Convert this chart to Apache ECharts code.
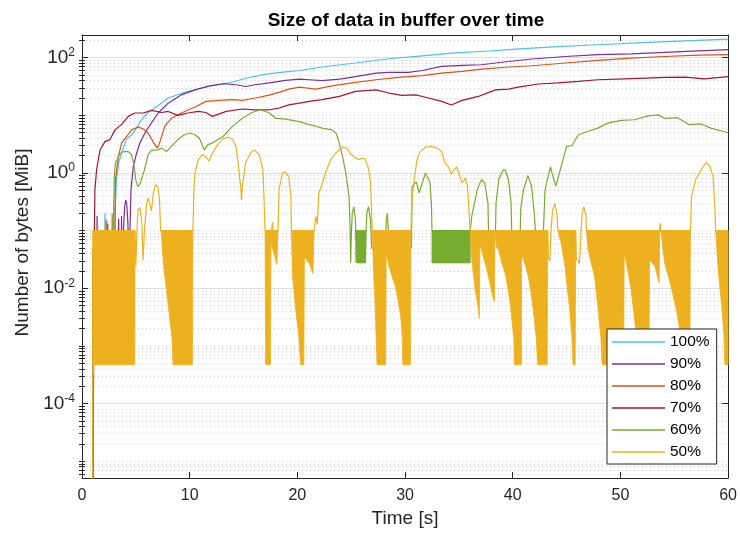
<!DOCTYPE html>
<html><head><meta charset="utf-8">
<script src="https://cdn.jsdelivr.net/npm/echarts@6/dist/echarts.min.js"></script>
<style>html,body{margin:0;padding:0;background:#fff}#c{width:740px;height:533px}</style>
</head><body><div id="c"></div>
<script>
// ---------- data (time [s], size [MiB]) ----------
const legendNames = ['100%', '90%', '80%', '70%', '60%', '50%'];
const xTickStep = 10;
const yLabelTicks = [1e-4, 1e-2, 1, 1e2];
const minorMantissas = [1, 2, 3, 4, 5, 6, 7, 8, 9];
const minorDecades = [-6, -5, -4, -3, -2, -1, 0, 1, 2];
const bandTop = 0.1;

const s100 = [[1.0,1e-6],[1.02,0.05],[2.1,0.05],[2.13,0.2],[2.16,0.05],[2.2,0.16],[2.23,0.05],[3.0,0.05],[3.06,0.1],[3.1,0.3],[3.2,0.75],[3.4,1.5],[3.67,2.2],[4.1,3.8],[4.6,4.6],[5.07,6],[5.5,8.3],[6.1,11],[7.1,15],[8.0,20],[9.2,24],[10.5,28],[11.85,32],[13.7,36.5],[15.2,44],[17.1,52],[18.9,57],[20.2,60],[22.3,69],[25.4,81],[28.5,96],[31.6,108],[34.7,121],[37.8,131],[39.6,138],[43.3,153],[47.9,168],[52.6,184],[57.2,200],[60,211]];

const s90 = [[1.0,1e-6],[1.02,0.05],[1.38,0.05],[1.4,0.18],[1.43,0.05],[3.35,0.05],[3.4,0.16],[3.45,0.05],[3.65,0.05],[3.67,0.18],[3.7,0.05],[3.85,0.1],[3.95,0.25],[4.05,0.34],[4.15,0.3],[4.25,0.15],[4.3,0.08],[4.4,0.05],[4.45,0.1],[4.55,0.5],[4.76,1.3],[5.07,2.2],[5.37,3.3],[5.83,4.9],[6.45,7.4],[7.07,11],[8.0,16.3],[9.23,22.7],[10.5,27.7],[11.85,32.5],[13.1,35.4],[14.3,34],[15.2,31.7],[16.1,34],[17.4,36.5],[18.9,40.4],[20.2,42.6],[21.1,41.5],[22.3,40],[23.9,42.6],[25.4,47],[27.3,54],[28.5,55.6],[30.3,55.6],[31.6,60],[33.4,70.6],[35.3,73.5],[37.1,75.5],[38.4,81],[39.6,86],[41.8,95],[44.9,105],[47.9,113],[51,117],[54.1,124],[57.2,131],[60,138]];

const s80 = [[1.0,1e-6],[1.02,0.05],[2.27,0.05],[2.3,0.15],[2.33,0.05],[2.38,0.05],[2.4,0.13],[2.43,0.05],[3.0,0.05],[3.06,0.1],[3.1,0.75],[3.37,1.9],[3.67,3.3],[4.14,4.3],[4.6,5.6],[5.2,6.3],[5.7,5.8],[6.15,4.9],[6.6,3.5],[7.0,2.7],[7.2,3.3],[7.7,6.5],[8.3,8.9],[9.23,11],[10.5,14],[11.5,17.5],[12.75,18.2],[14,18.7],[14.9,18.2],[16.1,20],[17.4,22.5],[18.3,25],[19.2,28.6],[20.2,31],[21.7,28.6],[23.2,32.5],[25.4,37.3],[27.3,41.5],[29.4,45.5],[31.6,49],[33.4,54],[35.3,57.9],[37.1,63.6],[39.6,69],[41.8,72.6],[44.9,81],[47.9,90],[51,98.7],[54.1,105],[57.2,111],[60,113]];

const s70 = [[1.0,1e-6],[1.1,0.002],[1.15,0.1],[1.2,0.51],[1.36,1.15],[1.67,2.5],[2.13,3.5],[2.6,3.8],[3.06,5.6],[3.67,6.9],[4.3,9.6],[4.9,11],[5.7,11],[6.45,12.2],[7.4,11.2],[8.0,11.7],[8.9,10],[9.85,11],[10.8,11.7],[11.5,11.2],[12.1,9.6],[13.4,11.7],[14.9,12.9],[16.1,12.5],[17.4,12.5],[18.3,13.4],[19.2,15.2],[20.2,16.3],[21.1,17.5],[22.3,18.7],[23.9,21.3],[25.4,26],[27.3,27.7],[28.5,24.4],[29.7,22.2],[31,22.7],[32.2,20],[33.4,17.5],[34.3,15.1],[35.3,18.2],[36.8,21.3],[38.4,27.7],[39.6,28.6],[40.5,31],[42.4,35],[44.2,36.5],[46.1,38.8],[47.9,41.5],[50.4,43],[52.3,44.3],[54.1,45.5],[56,46],[57.8,43],[60,47]];

const s60 = [[1.0,1e-6],[1.02,0.05],[1.43,0.05],[1.46,0.12],[1.5,0.05],[2.77,0.05],[2.8,0.2],[2.83,0.05],[2.9,0.1],[3.0,0.87],[3.1,1.5],[3.5,2.1],[3.8,2.35],[4.3,2.35],[4.6,2.1],[4.85,1.3],[5.0,0.75],[5.16,0.59],[5.35,0.62],[5.5,0.65],[5.8,1.13],[6.15,2.1],[6.45,2.5],[7.0,2.5],[7.4,2.7],[7.85,2.35],[8.3,2.9],[8.9,3.8],[9.5,4.6],[10.0,4.9],[10.5,4.6],[10.9,4.0],[11.36,2.5],[11.7,3.1],[12.1,3.3],[13.1,4.3],[14.0,6.5],[14.9,8.9],[15.8,11.2],[16.6,12.5],[17.4,11],[18.0,8.9],[18.9,8.6],[20.2,7.8],[21.1,6.9],[21.7,6.5],[22.3,6.0],[23.2,5.6],[23.6,4.9],[23.9,3.3],[24.2,1.9],[24.5,1.0],[24.8,0.39],[24.9,0.1],[24.95,0.028],[25.02,0.1],[25.1,0.2],[25.25,0.26],[25.4,0.15],[25.45,0.028],[25.5,0.1],[26.3,0.1],[26.32,0.028],[26.38,0.1],[26.45,0.2],[26.6,0.26],[26.8,0.15],[26.9,0.05],[28.2,0.05],[28.25,0.15],[28.35,0.2],[28.45,0.1],[28.5,0.05],[30.6,0.05],[30.65,0.59],[31.05,0.7],[31.3,0.45],[31.9,1.0],[32.3,0.7],[32.45,0.3],[32.5,0.1],[36.05,0.1],[36.2,0.18],[36.7,0.51],[37.1,0.77],[37.4,0.67],[37.7,0.3],[37.75,0.1],[38.4,0.1],[38.45,0.3],[38.7,0.77],[39.1,1.13],[39.3,1.13],[39.6,0.77],[39.85,0.3],[39.9,0.1],[40.7,0.1],[40.75,0.25],[41.0,0.51],[41.4,0.9],[41.75,0.59],[42.0,0.2],[42.1,0.1],[42.85,0.1],[43.0,0.51],[43.5,1.27],[43.8,0.8],[44.0,0.59],[44.5,1.3],[45.0,2.9],[45.5,3.0],[46.1,4.6],[47.0,5.3],[47.9,6.0],[48.9,7.4],[50.1,8.2],[51.3,8.4],[52.6,9.8],[53.5,10.2],[54.1,8.9],[55.3,9.1],[56.4,6.9],[57.5,7.1],[58.4,6.0],[60,5.0]];

const s50 = [[1.0,1e-6],[1.02,0.1],[4.92,0.1],[5.0,0.024],[5.1,0.1],[5.2,0.23],[5.37,0.25],[5.55,0.15],[5.67,0.031],[5.8,0.1],[6.0,0.3],[6.15,0.37],[6.3,0.36],[6.45,0.22],[6.6,0.42],[6.8,0.63],[7.07,0.55],[7.2,0.34],[7.3,0.1],[10.3,0.1],[10.4,0.59],[10.5,1.0],[10.8,1.7],[11.2,2.1],[11.5,1.9],[11.8,1.6],[12.1,2.2],[12.6,3.1],[13.1,3.9],[13.5,4.2],[14.0,3.8],[14.3,2.9],[14.5,1.5],[14.76,0.51],[14.8,0.34],[14.9,0.6],[15.2,1.5],[15.7,2.3],[16.0,2.5],[16.45,2.1],[16.8,1.13],[16.9,0.39],[17.0,0.1],[17.6,0.1],[17.7,0.14],[17.75,0.1],[18.2,0.1],[18.3,0.51],[18.6,1.0],[18.85,1.05],[19.2,0.87],[19.4,0.39],[19.45,0.1],[21.55,0.1],[21.7,0.176],[21.85,0.13],[22.0,0.45],[22.3,0.63],[22.6,1.0],[23.1,1.7],[23.55,2.2],[24.2,2.8],[24.6,2.7],[24.9,2.2],[25.25,1.9],[25.7,1.7],[26.0,1.8],[26.3,1.75],[26.6,1.2],[26.8,0.67],[26.95,0.1],[30.55,0.1],[30.65,0.39],[30.9,0.87],[31.1,1.7],[31.4,2.35],[31.9,2.8],[32.4,2.9],[33.0,2.7],[33.4,2.35],[33.7,1.5],[34.0,1.3],[34.3,0.96],[34.5,1.13],[34.8,1.27],[35.1,0.87],[35.3,0.67],[35.6,0.81],[35.8,0.59],[36.05,0.1],[43.25,0.1],[43.3,0.035],[43.45,0.03],[43.55,0.1],[43.7,0.22],[43.9,0.3],[44.1,0.2],[44.2,0.1],[45.85,0.1],[45.9,0.033],[46.2,0.027],[46.35,0.1],[46.45,0.2],[46.6,0.26],[46.8,0.18],[46.85,0.1],[53.65,0.1],[53.7,0.135],[53.75,0.1],[56.5,0.1],[56.6,0.39],[57.0,0.77],[57.35,1.0],[57.65,1.27],[57.95,1.5],[58.3,1.34],[58.6,0.87],[58.75,0.3],[58.85,0.1],[60,0.1]];

// fast-oscillation bands: lower envelope points (the upper edge is bandTop)
const band50 = [
  [[1.02,0.1],[1.04,3.3e-4],[1.1,4.7e-4],[4.9,4.7e-4],[4.92,0.1]],
  [[7.35,0.1],[7.45,0.05],[7.6,0.022],[7.8,0.011],[8.0,0.0052],[8.2,0.0025],[8.37,0.0013],[8.45,4.7e-4],[10.25,4.7e-4],[10.3,0.1]],
  [[17.0,0.1],[17.05,4.7e-4],[17.5,4.7e-4],[17.55,0.06],[17.75,0.045],[18.1,0.026],[18.2,0.1]],
  [[19.45,0.1],[19.55,0.016],[19.7,0.0085],[19.85,0.0042],[20.0,0.0024],[20.15,0.0013],[20.3,4.7e-4],[20.6,4.7e-4],[20.65,0.035],[21.1,0.027],[21.45,0.018],[21.55,0.1]],
  [[26.95,0.1],[27.1,0.015],[27.2,0.0063],[27.3,0.0017],[27.4,4.7e-4],[28.2,4.7e-4],[28.25,0.04],[28.5,0.024],[28.8,0.016],[29.1,0.0108],[29.4,0.0055],[29.6,0.0032],[29.75,0.0013],[29.8,4.7e-4],[30.5,4.7e-4],[30.55,0.1]],
  [[36.05,0.1],[36.2,0.03],[36.5,0.01],[36.75,0.005],[36.9,0.003],[36.95,0.06],[37.1,0.045],[37.5,0.025],[37.9,0.012],[38.2,0.0065],[38.3,0.0059],[38.35,0.1],[38.5,0.052],[38.7,0.045],[39.0,0.027],[39.3,0.018],[39.6,0.009],[39.8,0.0048],[40.1,0.0013],[40.15,4.7e-4],[40.8,4.7e-4],[40.82,0.038],[41.15,0.026],[41.45,0.016],[41.7,0.0085],[41.9,0.0042],[42.2,0.0013],[42.3,4.7e-4],[43.2,4.7e-4],[43.25,0.1]],
  [[44.2,0.1],[44.5,0.06],[44.85,0.024],[45.1,0.009],[45.3,0.0042],[45.5,0.0013],[45.6,4.7e-4],[45.8,4.7e-4],[45.85,0.1]],
  [[46.85,0.1],[47.0,0.047],[47.3,0.027],[47.6,0.016],[47.9,0.0048],[48.2,0.0013],[48.3,4.7e-4],[50.3,4.7e-4],[50.35,0.04],[50.7,0.02],[51.0,0.0093],[51.4,0.0021],[51.6,4.7e-4],[52.65,4.7e-4],[52.7,0.031],[53.2,0.024],[53.6,0.0123],[53.65,0.1],[53.75,0.1],[54.1,0.028],[54.7,0.0108],[55.2,0.0042],[55.65,0.0013],[55.8,4.7e-4],[56.45,4.7e-4],[56.5,0.1]],
  [[58.85,0.1],[59.05,0.024],[59.2,0.012],[59.35,0.0063],[59.6,0.0017],[59.7,4.7e-4],[60,4.7e-4]]
];
const band60 = [
  [[25.5,0.1],[25.5,0.0275],[26.3,0.0275],[26.3,0.1]],
  [[32.5,0.1],[32.5,0.0275],[36.05,0.0275],[36.05,0.1]]
];

// ---------- styling ----------
const FONT = '"Liberation Sans", Arial, Helvetica, sans-serif';
const TXT = '#262626';
const colors = ['#4DBEEE', '#7E2F8E', '#D95319', '#A2142F', '#77AC30', '#EDB120'];
const yMin = 5.1e-6, yMax = 248;

const minorTicks = [];
minorDecades.forEach(d => minorMantissas.forEach(m => {
  const v = m * Math.pow(10, d);
  const isMajor = yLabelTicks.some(t => Math.abs(t - v) / t < 1e-9);
  if (!isMajor && v >= yMin && v <= yMax) minorTicks.push(v);
}));

function bandSeries(name, blocks, color, z) {
  return {
    type: 'custom', name: name, silent: true, clip: true, z: z,
    data: blocks.map(b => [b[0][0], b[b.length - 1][0], bandTop]),
    encode: { x: [0, 1], y: 2 },
    renderItem: function (params, api) {
      const blk = blocks[params.dataIndex];
      const up = blk.map(p => api.coord([p[0], bandTop]));
      const lo = blk.slice().reverse().map(p => api.coord([p[0], p[1]]));
      return { type: 'polygon', shape: { points: up.concat(lo) },
               style: { fill: color, stroke: color, lineWidth: 0.8 } };
    }
  };
}

const lineSets = [s100, s90, s80, s70, s60, s50];
const series = [];
lineSets.forEach((d, i) => {
  series.push({
    type: 'line', name: legendNames[i], data: d, symbol: 'none', clip: true, silent: true,
    z: i < 5 ? 2 + i : 9,
    lineStyle: { width: 1.2, color: colors[i] }, itemStyle: { color: colors[i] }
  });
  if (i === 4) series.push(bandSeries(legendNames[4], band60, colors[4], 7));
});
series.push(bandSeries(legendNames[5], band50, colors[5], 8));

const yBase = { type: 'log', logBase: 10, min: yMin, max: yMax, gridIndex: 0 };
const chart = echarts.init(document.getElementById('c'), null, { renderer: 'canvas' });
chart.setOption({
  animation: false,
  backgroundColor: '#fff',
  textStyle: { fontFamily: FONT },
  title: {
    text: 'Size of data in buffer over time', left: 406, top: 11, textAlign: 'center', padding: 0,
    textStyle: { fontFamily: FONT, fontSize: 19, fontWeight: 'bold', color: '#000' }
  },
  legend: {
    data: legendNames, orient: 'vertical', left: 607, top: 329, z: 20,
    icon: 'rect', padding: [5, 7, 4, 5], itemGap: 6, itemWidth: 53, itemHeight: 1.6,
    backgroundColor: '#fff', borderColor: '#262626', borderWidth: 1, borderRadius: 0,
    textStyle: { fontFamily: FONT, fontSize: 15.5, color: '#000', lineHeight: 16 },
    selectedMode: false
  },
  grid: { left: 82, top: 35, width: 648, height: 443, containLabel: false },
  xAxis: [
    { type: 'value', min: 0, max: 60, interval: xTickStep, position: 'bottom',
      name: 'Time [s]', nameLocation: 'middle', nameGap: 28,
      nameTextStyle: { fontFamily: FONT, fontSize: 19, color: TXT },
      axisLine: { onZero: false, lineStyle: { color: TXT, width: 1 } },
      axisTick: { inside: true, length: 6, lineStyle: { color: TXT } },
      axisLabel: { fontFamily: FONT, fontSize: 16, color: TXT, margin: 10 },
      splitLine: { show: false } },
    { type: 'value', min: 0, max: 60, interval: xTickStep, position: 'top',
      axisLine: { onZero: false, lineStyle: { color: TXT, width: 1 } },
      axisTick: { inside: true, length: 6, lineStyle: { color: TXT } },
      axisLabel: { show: false }, splitLine: { show: false } }
  ],
  yAxis: [
    Object.assign({}, yBase, {
      position: 'left',
      name: 'Number of bytes [MiB]', nameLocation: 'middle', nameGap: 49, nameRotate: 90,
      nameTextStyle: { fontFamily: FONT, fontSize: 19, color: TXT, padding: [0, 0, 0, 28] },
      axisLine: { show: true, onZero: false, lineStyle: { color: TXT, width: 1 } },
      axisTick: { inside: true, length: 6, customValues: yLabelTicks, lineStyle: { color: TXT } },
      axisLabel: {
        customValues: yLabelTicks, margin: 7,
        formatter: v => '{a|10}{b|' + Math.round(Math.log10(v)) + '}',
        rich: {
          a: { fontFamily: FONT, fontSize: 19, color: TXT, lineHeight: 22 },
          b: { fontFamily: FONT, fontSize: 12, color: TXT, lineHeight: 22, verticalAlign: 'top', padding: [0, 0, 0, 0] }
        }
      },
      splitLine: { show: true, lineStyle: { color: '#e0e0e0', width: 1 } }
    }),
    Object.assign({}, yBase, {
      position: 'left',
      axisLine: { show: false },
      axisTick: { inside: true, length: 3, customValues: minorTicks, lineStyle: { color: TXT } },
      axisLabel: { show: false },
      splitLine: { show: true, lineStyle: { color: '#cccccc', width: 1, type: [1, 3] } }
    }),
    Object.assign({}, yBase, {
      position: 'right',
      axisLine: { show: true, onZero: false, lineStyle: { color: TXT, width: 1 } },
      axisTick: { inside: true, length: 6, customValues: yLabelTicks, lineStyle: { color: TXT } },
      axisLabel: { show: false }, splitLine: { show: false }
    }),
    Object.assign({}, yBase, {
      position: 'right',
      axisLine: { show: false },
      axisTick: { inside: true, length: 3, customValues: minorTicks, lineStyle: { color: TXT } },
      axisLabel: { show: false }, splitLine: { show: false }
    })
  ],
  series: series
});
</script></body></html>
